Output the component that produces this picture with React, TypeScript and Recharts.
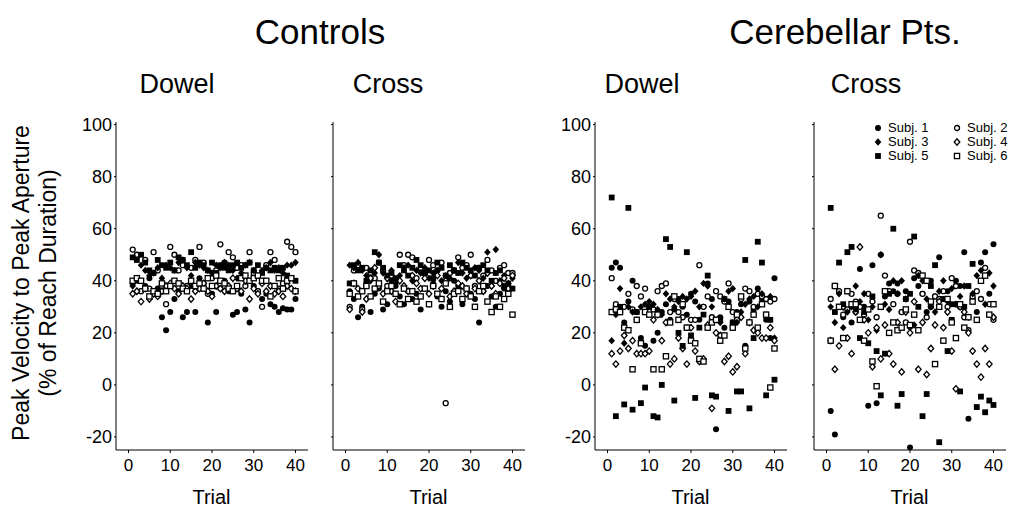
import React from 'react';
import { ScatterChart, Scatter, XAxis, YAxis } from 'recharts';

// ---------- data ----------
const trials = [1, 2, 3, 4, 5, 6, 7, 8, 9, 10, 11, 12, 13, 14, 15, 16, 17, 18, 19, 20,
  21, 22, 23, 24, 25, 26, 27, 28, 29, 30, 31, 32, 33, 34, 35, 36, 37, 38, 39, 40];
const xTicks = [0, 10, 20, 30, 40];
const yTicks = [-20, 0, 20, 40, 60, 80, 100];
const subjects = ['Subj. 1', 'Subj. 2', 'Subj. 3', 'Subj. 4', 'Subj. 5', 'Subj. 6'];

// Controls – Dowel
const cdS1 = [39, 40, 36, 38, 41, 35, 37, 26, 21, 28, 33, 36, 26, 28, 38, 28, 41, 39, 24, 35, 28, 37, 40, 36, 27, 28, 35, 29, 24, 38, 36, 33, 35, 31, 30, 28, 29.5, 29, 29, 33];
const cdS2 = [52, 50, 36, 48, 37, 51, 44, 38, 31, 53, 50, 44, 46, 38, 45, 48, 53, 47, 35, 41, 44, 54, 47, 51, 49, 45, 46, 38, 51, 43, 36, 30, 46, 51, 48, 37, 39, 55, 53, 51];
const cdS3 = [38, 36, 46, 44, 42, 43, 45, 41, 46, 45, 44, 47, 48, 45, 42, 47, 46, 45, 44, 43, 46, 45, 47, 46, 44, 41, 43, 46, 47, 44, 42, 44, 45, 47, 44, 45, 43, 46, 46, 47];
const cdS4 = [35, 36, 32, 37, 33, 35, 34, 36, 38, 39, 37, 35, 38, 37, 33, 36, 37, 39, 36, 34, 38, 37, 36, 38, 41, 37, 36, 40, 33, 37, 35, 39, 36, 38, 35, 36, 34, 38, 37, 36];
const cdS5 = [49, 48, 50, 47, 44, 43, 48, 46, 45, 47, 44, 49, 48, 46, 51, 45, 47, 46, 44, 47, 43, 46, 45, 44, 46, 47, 45, 46, 47, 44, 46, 43, 45, 44, 45, 44, 45, 42, 41, 40];
const cdS6 = [40, 41, 40, 37, 34, 36, 35, 39, 36, 38, 40, 39, 37, 36, 40, 38, 39, 37, 41, 38, 42, 40, 39, 37, 36, 38, 41, 42, 40, 41, 42, 40, 40, 34, 38, 41, 37, 40, 41, 36];

// Controls – Cross
const ccS1 = [36, 33, 26, 30, 38, 28, 35, 37, 29, 31, 40, 38, 34, 31, 36, 33, 35, 29, 37, 31, 39, 34, 30, 36, 32, 40, 38, 31, 37, 35, 33, 24, 36, 38, 34, 30, 35, 37, 36, 42];
const ccS2 = [30, 44, 46, 29, 45, 43, 41, 47, 44, 38, 42, 40, 50, 46, 50, 49, 41, 45, 43, 48, 46, 44, 47, -7, 43, 44, 49, 45, 46, 50, 38, 45, 42, 48, 44, 40, 45, 46, 43, 43];
const ccS3 = [46, 45, 47, 44, 42, 40, 43, 50, 43, 41, 44, 39, 42, 45, 46, 40, 44, 43, 45, 41, 43, 44, 40, 42, 41, 44, 47, 43, 41, 42, 45, 44, 41, 51, 38, 52, 40, 42, 39, 41];
const ccS4 = [29, 39, 37, 28, 33, 41, 45, 38, 35, 41, 36, 32, 40, 38, 36, 42, 39, 37, 41, 35, 38, 42, 37, 40, 34, 36, 39, 38, 35, 42, 37, 40, 36, 43, 38, 35, 39, 41, 37, 42];
const ccS5 = [39, 46, 44, 45, 40, 44, 51, 47, 45, 42, 43, 41, 46, 44, 42, 45, 48, 46, 43, 44, 41, 47, 45, 42, 46, 44, 43, 47, 45, 44, 42, 45, 46, 44, 40, 43, 44, 38, 39, 37];
const ccS6 = [35, 39, 34, 36, 38, 34, 37, 39, 32, 36, 38, 35, 31, 37, 33, 36, 32, 34, 37, 31, 38, 35, 33, 39, 30, 35, 36, 33, 37, 34, 30, 36, 38, 32, 28, 34, 30, 33, 35, 27];

// Cerebellar – Dowel
const pdS1 = [45, 47, 45, 24, 32, 40, 28, 18, 15, 30, 17, 20, 28, 31, 25, 29, 33, 30, 27, 35, 32, 25, 30, 39, 33, -17, 26, 22, 32, 24, 28, 31, 15, 32, 29, 37, 33, 25, 18, 41];
const pdS2 = [41, 31, 28, 30, 35, 29, 38, 34, 37, 30, 29, 36, 38, 39, 28, 33, 28, 26, 22, 25, 25, 46, 30, 34, 26, 36, 34, 32, 39, 28, 25, 33, 37, 36, 30, 35, 34, 33, 32, 33];
const pdS3 = [17, 27, 37, 16, 30, 28, 25, 30, 31, 32, 31, 29, 27, 35, 33, 30, 32, 34, 33, 34, 36, 30, 39, 38, 30, 25, 24, 33, 36, 37, 24, 28, 31, 33, 34, 30, 35, 27, 34, 18];
const pdS4 = [12, 8, 13, 19, 14, 17, 12, 12, 12, 13, 25, 27, 17, 24, 8, 10, 18, 14, 8, 22, 13, 9, 10, 23, -9, 20, 19, 9, 11, 5, 7, 26, 12, 24, 21, 20, 18, 18, 22, 17];
const pdS5 = [72, -12, 30, -7.5, 68, -9.5, 28, -7, -1, 30, -12, -12.5, 0, 56, 53, -6, 20, 15, 51, 19, -5, 22, 27, 42, -4, -4.5, 25, 33, -10, 24, -2.5, -2.5, 48, -9, 18, 55, 47, -4, 25, 2];
const pdS6 = [28, 29, 28, 22, 21, 6, 25, 16, 28, 27, 6, 27, 6, 11, 24, 34, 25, 31, 22, 17, 16, 10, 9, 22, 24, 25, 17, 19, 30, 22, 27, 34, 14, 24, 27, 22, 31, 27, -1, 14];

// Cerebellar – Cross
const pcS1 = [-10, -19, 30, 26, 36, 24, 28, 44.5, 30, -8, 46, -7, 50, 34, 39, 36, 39, 28, 36, -24, 41, 38, 35, 28, 40, 34, 49, 33, 36, 31, 40, 38, 51, -13, 33, 28, 47, 51, 35, 54];
const pcS2 = [33, 38, 36, 27, 29, 35, 32, 30, 27, 35, 32, 26, 65, 42, 36, 31, 35, 28, 24, 55, 44, 43, 35, 26, 30, 34, 33, 36, 30, 41, 38, 30, 26, 21, 34, 36, 33, 45, 31, 25];
const pcS3 = [30, 24, 35, 22, 28, 30, 38, 32, 35, 25, 30, 21, 50, 31, 29, 40, 35, 40, 33, 22, 23, 42, 40, 33, 30, 28, 36, 40, 32, 37, 31, 34, 38, 26, 35, 42, 44, 31, 43, 38];
const pcS4 = [17, 6, 15, 30, 18, 12, 28, 53, 25, 20, 7, 22, 10, 23, 12, 8, 24, 5, 28, 20, 32, 6, 24, 4, 14, 23, 32, 22, 28, 13, -1.5, 30, 28, 20, 13, 8, 3, 14, 8, 26];
const pcS5 = [68, 28, 47, 31, 51, 53, 29, 18, 28, 16, 34, 13, -4, 12, 35, 60, -8, -3.5, 33, 35, 57, 30, -12, -3.5, 38, 46, -22, 33, 13, 25, 31, -2.5, 30, 38, 46.5, -8.5, -4.5, -10.5, -6, -7.7];
const pcS6 = [17, 38, 30, 18, 36, 31, 31, 25, 17, 29, 9, -0.5, 30, 36, 20, 24, 21, 22, 29, 23, 27, 21, 42, 40, 32, 8, 30, 17, 33, 24, 18, 31, 22, 26, 32, 25, 40, 42, 27, 31];

// ---------- markers ----------
const FilledCircle = (p: any) => <circle cx={p.cx} cy={p.cy} r={3} fill="#000" />;
const OpenCircle = (p: any) => <circle cx={p.cx} cy={p.cy} r={2.5} fill="#fff" stroke="#000" strokeWidth={1.3} />;
const FilledDiamond = (p: any) => (
  <polygon points={`${p.cx},${p.cy - 3.7} ${p.cx + 3.3},${p.cy} ${p.cx},${p.cy + 3.7} ${p.cx - 3.3},${p.cy}`} fill="#000" />
);
const OpenDiamond = (p: any) => (
  <polygon points={`${p.cx},${p.cy - 3.2} ${p.cx + 2.8},${p.cy} ${p.cx},${p.cy + 3.2} ${p.cx - 2.8},${p.cy}`} fill="#fff" stroke="#000" strokeWidth={1.3} />
);
const FilledSquare = (p: any) => <rect x={p.cx - 2.9} y={p.cy - 2.9} width={5.8} height={5.8} fill="#000" />;
const OpenSquare = (p: any) => <rect x={p.cx - 2.6} y={p.cy - 2.6} width={5.2} height={5.2} fill="#fff" stroke="#000" strokeWidth={1.3} />;
const shapes = [FilledCircle, OpenCircle, FilledDiamond, OpenDiamond, FilledSquare, OpenSquare];

const toPoints = (vals: number[]) => trials.map((t, i) => ({ x: t, y: vals[i] }));

const FONT = '"Liberation Sans", Arial, Helvetica, sans-serif';

const Y_W = 55;
const PLOT_W = 192;
const PLOT_TOP = 122.4;

function Panel({ plotLeft, labels, series }: { plotLeft: number; labels: boolean; series: number[][] }) {
  return (
    <div style={{ position: 'absolute', left: plotLeft - Y_W, top: PLOT_TOP - 10 }}>
      <ScatterChart width={Y_W + PLOT_W + 5} height={378} margin={{ top: 10, right: 5, bottom: 0, left: 0 }}>
        <XAxis
          type="number"
          dataKey="x"
          domain={[-3, 43]}
          ticks={xTicks}
          height={40}
          allowDataOverflow
          stroke="#000"
          tickSize={3}
          tickMargin={6}
          tick={{ fontSize: 17, fill: '#000', fontFamily: FONT }}
        />
        <YAxis
          type="number"
          dataKey="y"
          domain={[-25, 101]}
          ticks={yTicks}
          width={Y_W}
          allowDataOverflow
          stroke="#000"
          tickSize={2}
          tickMargin={2}
          tickFormatter={(v: number) => (labels ? String(v) : '')}
          tick={{ fontSize: 18, fill: '#000', fontFamily: FONT }}
        />
        {series.map((vals, i) => (
          <Scatter key={i} name={subjects[i]} data={toPoints(vals)} shape={shapes[i]} isAnimationActive={false} />
        ))}
      </ScatterChart>
    </div>
  );
}

function Text({ x, y, size, children }: { x: number; y: number; size: number; children: React.ReactNode }) {
  return (
    <div
      style={{
        position: 'absolute',
        left: x,
        top: y,
        transform: 'translate(-50%, -50%)',
        fontSize: size,
        fontFamily: FONT,
        whiteSpace: 'nowrap',
        lineHeight: 1,
        color: '#000',
      }}
    >
      {children}
    </div>
  );
}

function VText({ x, y, size, children }: { x: number; y: number; size: number; children: React.ReactNode }) {
  return (
    <div
      style={{
        position: 'absolute',
        left: x,
        top: y,
        transform: 'translate(-50%, -50%) rotate(-90deg)',
        fontSize: size,
        fontFamily: FONT,
        whiteSpace: 'nowrap',
        lineHeight: 1,
        color: '#000',
      }}
    >
      {children}
    </div>
  );
}

function LegendItem({ x, y, idx }: { x: number; y: number; idx: number }) {
  const Shape = shapes[idx];
  return (
    <>
      <svg style={{ position: 'absolute', left: x - 5, top: y - 5 }} width={10} height={10}>
        <Shape cx={5} cy={5} />
      </svg>
      <div
        style={{
          position: 'absolute',
          left: x + 10,
          top: y - 7,
          fontSize: 13,
          fontFamily: FONT,
          lineHeight: '14px',
          whiteSpace: 'nowrap',
        }}
      >
        {subjects[idx]}
      </div>
    </>
  );
}

export default function App() {
  const panels = [
    { plotLeft: 115.5, labels: true, series: [cdS1, cdS2, cdS3, cdS4, cdS5, cdS6] },
    { plotLeft: 332.5, labels: false, series: [ccS1, ccS2, ccS3, ccS4, ccS5, ccS6] },
    { plotLeft: 594.5, labels: true, series: [pdS1, pdS2, pdS3, pdS4, pdS5, pdS6] },
    { plotLeft: 813.5, labels: false, series: [pcS1, pcS2, pcS3, pcS4, pcS5, pcS6] },
  ];
  return (
    <div style={{ position: 'absolute', left: 0, top: 0, width: 1024, height: 512, background: '#fff', overflow: 'hidden' }}>
      {panels.map((p, i) => (
        <Panel key={i} plotLeft={p.plotLeft} labels={p.labels} series={p.series} />
      ))}
      <Text x={320} y={31} size={35}>Controls</Text>
      <Text x={845} y={31} size={35}>Cerebellar Pts.</Text>
      <Text x={177} y={84} size={27}>Dowel</Text>
      <Text x={388} y={84} size={27}>Cross</Text>
      <Text x={642} y={84} size={27}>Dowel</Text>
      <Text x={866} y={84} size={27}>Cross</Text>
      {panels.map((p, i) => (
        <Text key={i} x={p.plotLeft + 12.5 + 20 * 4.175} y={497} size={20}>Trial</Text>
      ))}
      <VText x={21} y={283} size={23}>Peak Velocity to Peak Aperture</VText>
      <VText x={48} y={283} size={23}>(% of Reach Duration)</VText>
      <LegendItem x={878} y={128} idx={0} />
      <LegendItem x={957} y={128} idx={1} />
      <LegendItem x={878} y={142} idx={2} />
      <LegendItem x={957} y={142} idx={3} />
      <LegendItem x={878} y={156} idx={4} />
      <LegendItem x={957} y={156} idx={5} />
    </div>
  );
}
